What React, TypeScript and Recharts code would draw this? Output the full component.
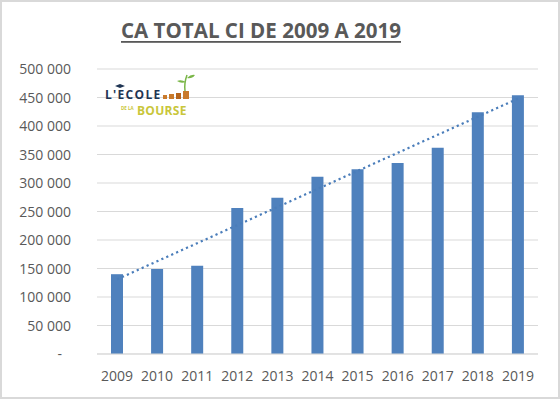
import React from 'react';
import { ComposedChart, Bar, Line, XAxis, YAxis, CartesianGrid } from 'recharts';

const years = ['2009', '2010', '2011', '2012', '2013', '2014', '2015', '2016', '2017', '2018', '2019'];
const caTotal = [140000, 149000, 155000, 256000, 274000, 311000, 324000, 335000, 362000, 424000, 454000];
const trendYears = ['2009', '2019'];
const trendValues = [131000, 448000];
const yTicks = [0, 50000, 100000, 150000, 200000, 250000, 300000, 350000, 400000, 450000, 500000];
const title = 'CA TOTAL CI DE 2009 A 2019';

const data = years.map((year, i) => {
  const t = trendYears.indexOf(year);
  return { year, ca: caTotal[i], trend: t >= 0 ? trendValues[t] : null };
});

const FONT = '"Open Sans", sans-serif';
const TEXT = '#595959';

const fmt = (v: number) => (v === 0 ? '-' : String(v).replace(/\B(?=(\d{3})+(?!\d))/g, ' '));

const YTick = (props: any) => {
  const { x, y, payload } = props;
  const v = payload.value as number;
  return (
    <text x={x - (v === 0 ? 9 : 0)} y={y} dy="0.36em" textAnchor="end" fill={TEXT} fontSize={14} fontFamily={FONT}>
      {fmt(v)}
    </text>
  );
};

export default function App() {
  return (
    <div style={{ position: 'absolute', left: 0, top: 0, width: 560, height: 399, background: '#fff' }}>
      <ComposedChart
        width={560}
        height={399}
        data={data}
        margin={{ top: 69, right: 22, bottom: 0, left: 0 }}
        barCategoryGap="35%"
      >
        <CartesianGrid vertical={false} stroke="#d9d9d9" strokeWidth={1} />
        <XAxis
          dataKey="year"
          height={45}
          tickLine={false}
          tickSize={0}
          tickMargin={17}
          axisLine={{ stroke: '#d9d9d9' }}
          tick={{ fill: TEXT, fontSize: 14, fontFamily: FONT }}
          interval={0}
        />
        <YAxis
          width={97}
          domain={[0, 500000]}
          ticks={yTicks}
          interval={0}
          axisLine={false}
          tickLine={false}
          tickSize={0}
          tickMargin={26}
          tick={<YTick />}
        />
        <Line
          type="linear"
          dataKey="trend"
          connectNulls
          stroke="#4a7dba"
          strokeWidth={2.2}
          strokeDasharray="2.2 3.2"
          dot={false}
          activeDot={false}
          isAnimationActive={false}
        />
        <Bar dataKey="ca" fill="#4f81bd" barSize={12} isAnimationActive={false} />
      </ComposedChart>
      <svg
        width={560}
        height={399}
        style={{ position: 'absolute', left: 0, top: 0, pointerEvents: 'none' }}
      >
        <text
          x={261}
          y={38}
          textAnchor="middle"
          fill={TEXT}
          fontSize={21.5}
          fontWeight="bold"
          fontFamily={FONT}
          textLength={280}
          lengthAdjust="spacingAndGlyphs"
        >
          {title}
        </text>
        <rect x={121} y={41} width={280} height={1.8} fill={TEXT} />
        {/* logo */}
        <g>
          <text x={105} y={98.5} fill="#1f3553" fontSize={12} fontWeight="bold" fontFamily={FONT} letterSpacing={1.3}>
            L'ECOLE
          </text>
          <text x={121} y={109.5} fill="#c9c63a" fontSize={4.5} fontWeight="bold" fontFamily={FONT}>
            DE LA
          </text>
          <text x={137} y={115} fill="#c9c63a" fontSize={12} fontWeight="bold" fontFamily={FONT} letterSpacing={0.3}>
            BOURSE
          </text>
          <path d="M115 86 l5 -2 l5 2 l-5 2 z" fill="#1f3553" />
          <rect x={163} y={95} width={4} height={4} fill="#c97a2b" />
          <rect x={169} y={94} width={5} height={5} fill="#c97a2b" />
          <rect x={176} y={93} width={5} height={6} fill="#b5651d" />
          <rect x={183} y={91} width={6} height={8} fill="#c97a2b" />
          <path d="M185 91 Q184 83 187 75" stroke="#7ab648" strokeWidth={1.5} fill="none" />
          <path d="M186 82 q-5 -3 -9 -1 q4 3 9 1 z" fill="#7ab648" />
          <path d="M187 78 q4 -4 8 -3 q-3 4 -8 3 z" fill="#7ab648" />
        </g>
      </svg>
      <div
        style={{
          position: 'absolute',
          left: 0,
          top: 0,
          width: 560,
          height: 399,
          boxSizing: 'border-box',
          border: '2px solid #d9d9d9',
          pointerEvents: 'none',
        }}
      />
    </div>
  );
}
